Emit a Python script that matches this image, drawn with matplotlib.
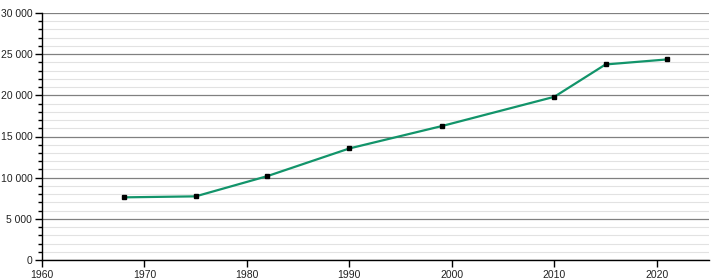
import matplotlib
matplotlib.use("Agg")
import matplotlib.pyplot as plt
from matplotlib.ticker import MultipleLocator, FuncFormatter

# ── Data ──────────────────────────────────────────────────────────────────────
years = [1968, 1975, 1982, 1990, 1999, 2010, 2015, 2021]
population = [7610, 7730, 10190, 13550, 16260, 19820, 23750, 24360]

plt.rcParams["font.family"] = ["Liberation Sans", "DejaVu Sans"]

fig = plt.figure(figsize=(7.2, 2.8), dpi=100)
ax = fig.add_axes([42 / 720, 20 / 280, 667 / 720, 247 / 280])

# ── Grid ──────────────────────────────────────────────────────────────────────
ax.yaxis.set_major_locator(MultipleLocator(5000))
ax.yaxis.set_minor_locator(MultipleLocator(1000))
ax.xaxis.set_major_locator(MultipleLocator(10))
ax.grid(axis="y", which="major", color="#808080", linewidth=0.9)
ax.grid(axis="y", which="minor", color="#e2e2e2", linewidth=0.8)
ax.set_axisbelow(True)

# ── Line ──────────────────────────────────────────────────────────────────────
ax.plot(years, population, color="#12946a", linewidth=1.6, zorder=3)
ax.plot(years, population, linestyle="none", marker="s", markersize=3.5,
        color="black", zorder=4)

ax.set_xlim(1960, 2025.1)
ax.set_ylim(0, 30000)

ax.yaxis.set_major_formatter(FuncFormatter(lambda v, p: f"{int(v):,}".replace(",", " ")))

for side in ["top", "right"]:
    ax.spines[side].set_visible(False)
ax.spines["left"].set_linewidth(1.0)
ax.spines["bottom"].set_linewidth(1.0)

ax.tick_params(axis="both", which="major", length=5, width=1, labelsize=7.5,
               colors="black", pad=2)
ax.tick_params(axis="y", which="minor", length=3, width=1)
ax.tick_params(axis="x", which="minor", length=0)
for lbl in ax.get_yticklabels() + ax.get_xticklabels():
    lbl.set_color("#222222")

plt.savefig("out.png", dpi=100)
